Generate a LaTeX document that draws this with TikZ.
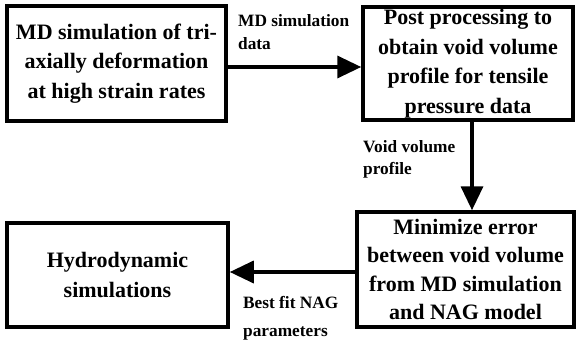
\documentclass[tikz,border=0pt]{standalone}
\usepackage{fontspec}
\setmainfont{Liberation Serif}
\usetikzlibrary{arrows.meta}
\begin{document}
\begin{tikzpicture}[x=1pt,y=-1pt,
  box/.style={draw, line width=3.5pt, align=center, inner sep=0pt,
    font=\fontsize{22}{29.5}\selectfont\bfseries},
  lbl/.style={align=left, anchor=north west, inner sep=0pt},
  arr/.style={line width=3.5pt, -{Triangle[length=24pt,width=22pt]}}]
\useasboundingbox (0,0) rectangle (576,340);
% process boxes
\node[box, minimum width=219pt, minimum height=115pt] (b1) at (116.5,63.5)
  {MD simulation of tri-\\axially deformation\\at high strain rates};
\node[box, minimum width=210pt, minimum height=113pt] (b2) at (468,63.5)
  {Post processing to\\obtain void volume\\profile for tensile\\pressure data};
\node[box, minimum width=217pt, minimum height=115pt,
  font=\fontsize{22}{28.5}\selectfont\bfseries] (b3) at (465.5,269.5)
  {Minimize error\\between void volume\\from MD simulation\\and NAG model};
\node[box, minimum width=221pt, minimum height=104pt] (b4) at (117.5,275)
  {Hydrodynamic\\simulations};
% connectors
\draw[arr] ([yshift=-3.5pt]b1.east) -- ([yshift=-3.5pt]b1.east -| b2.west);
\draw[arr] ([xshift=4pt]b2.south) -- ([xshift=4pt]b2.south |- b3.north);
\draw[arr] ([yshift=-2.5pt]b3.west) -- ([yshift=-2.5pt]b3.west -| b4.east);
% connector labels
\node[lbl, font=\fontsize{17.3}{23}\selectfont\bfseries] (l1) at (238,14)
  {MD simulation\\data};
\node[lbl, font=\fontsize{17.3}{22}\selectfont\bfseries] (l2) at (363,140)
  {Void volume\\profile};
\node[lbl, font=\fontsize{17.3}{28}\selectfont\bfseries] (l3) at (243,296)
  {Best fit NAG\\parameters};
\end{tikzpicture}
\end{document}
